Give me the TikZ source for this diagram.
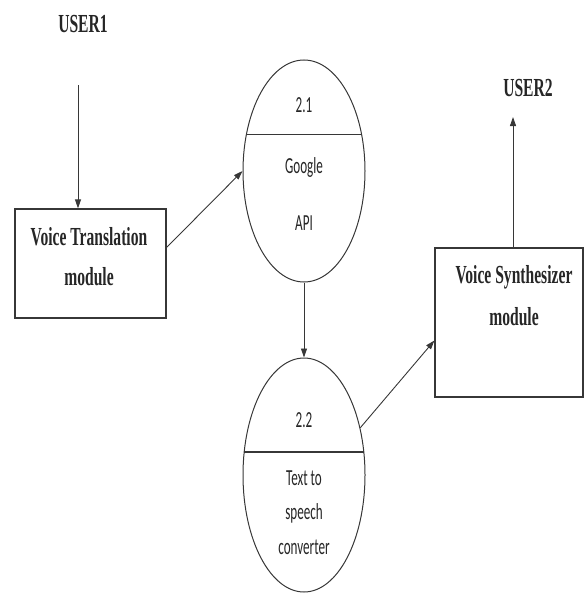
\documentclass[tikz,border=0pt]{standalone}
\usepackage{fontspec}
\usepackage{graphicx}
\usepackage{tikz}
\usetikzlibrary{shapes.geometric,arrows.meta}
\setmainfont{Liberation Serif}
\newfontfamily\procfont{Carlito}
\definecolor{dfdline}{RGB}{55,55,55}
\newcommand{\narrow}[2][0.6]{\scalebox{#1}[1]{#2}}

\begin{document}
\begin{tikzpicture}[x=1pt,y=-1pt,
  modbox/.style={draw=dfdline,line width=1.2pt,inner sep=0pt},
  proc/.style={ellipse,draw=dfdline,line width=1pt,inner sep=0pt,minimum width=122pt},
  modtxt/.style={font=\fontsize{26}{30}\selectfont\bfseries,text=black!85,inner sep=0pt},
  proctxt/.style={font=\procfont\fontsize{23}{27}\selectfont,text=black!85,inner sep=0pt},
  flow/.style={draw=dfdline,line width=0.9pt,-{Triangle[length=9pt,width=6pt]}}]
  \useasboundingbox (0,0) rectangle (585,594);
  % external entities
  \node[modtxt] (user1) at (83,24) {\narrow{USER1}};
  \node[modtxt] (user2) at (528,88) {\narrow{USER2}};
  \coordinate (u1) at (78,85);
  \coordinate (u2) at (513,117);
  % modules
  \node[modbox,minimum width=151pt,minimum height=109pt] (trans) at (90.5,263.5) {};
  \node[modtxt] (transa) at (89,237) {\narrow{Voice Translation}};
  \node[modtxt] (transb) at (89,277) {\narrow{module}};
  \node[modbox,minimum width=148pt,minimum height=149pt] (synth) at (509,322.5) {};
  \node[modtxt] (syntha) at (514,277) {\narrow{Voice Synthesizer}};
  \node[modtxt] (synthb) at (514,317) {\narrow{module}};
  % processes
  \node[proc,minimum height=222pt] (api) at (304,171) {};
  \draw[dfdline,line width=1.4pt] (api.148) -- (api.32);
  \node[proctxt] (apinum) at (304,105) {\narrow[0.57]{2.1}};
  \node[proctxt] (apia) at (304,167) {\narrow[0.57]{Google}};
  \node[proctxt] (apib) at (304,223) {\narrow[0.57]{API}};
  \node[proc,minimum height=234pt] (tts) at (304,475) {};
  \draw[dfdline,line width=1.4pt] (tts.159) -- (tts.21);
  \node[proctxt] (ttsnum) at (304,420) {\narrow[0.57]{2.2}};
  \node[proctxt] (ttsa) at (304,478) {\narrow[0.57]{Text to}};
  \node[proctxt] (ttsb) at (304,513) {\narrow[0.57]{speech}};
  \node[proctxt] (ttsc) at (304,547) {\narrow[0.57]{converter}};
  % data flows
  \draw[flow] (u1) -- (u1 |- trans.north);
  \draw[flow] ([yshift=16pt]trans.east) -- (api.west);
  \draw[flow] (api.south) -- (tts.north);
  \draw[flow] (tts.40) -- ([yshift=-18pt]synth.west);
  \draw[flow] (u2 |- synth.north) -- (u2);
\end{tikzpicture}
\end{document}
